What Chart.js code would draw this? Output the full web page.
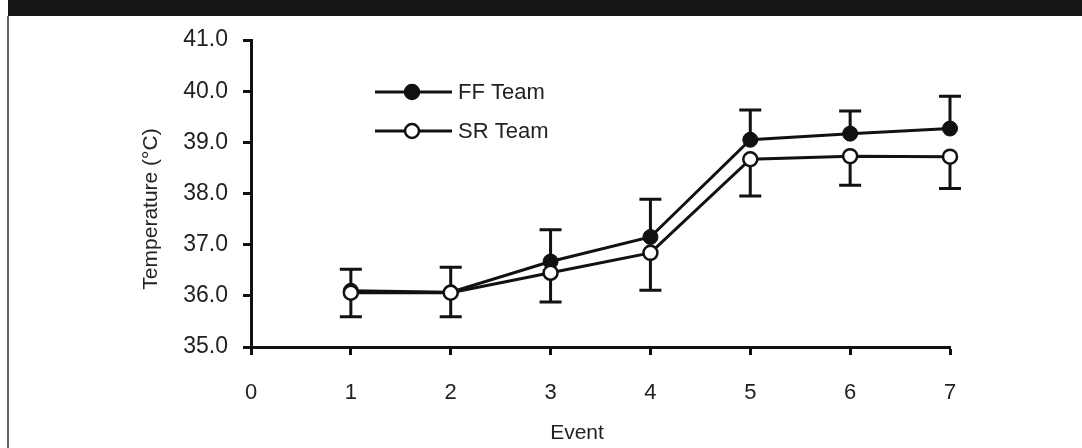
<!DOCTYPE html>
<html>
<head>
<meta charset="utf-8">
<script src="https://cdn.jsdelivr.net/npm/chart.js@4.4.1/dist/chart.umd.min.js"></script>
<style>
  html, body { margin: 0; padding: 0; background: #fff; }
  #wrap { position: relative; width: 1082px; height: 448px; overflow: hidden; }
  #header { position: absolute; left: 8px; top: 0; width: 1074px; height: 16px; background: #161616; }
  #border { position: absolute; left: 7px; top: 16px; width: 2px; height: 432px; background: #666; }
  canvas { position: absolute; left: 0; top: 0; }
</style>
</head>
<body>
<div id="wrap">
  <canvas id="c" width="1082" height="448"></canvas>
  <div id="header"></div>
  <div id="border"></div>
</div>
<script>
// ---- data ----
const events = [1, 2, 3, 4, 5, 6, 7];
const ffTeam = [36.10, 36.07, 36.67, 37.15, 39.05, 39.17, 39.27];
const srTeam = [36.06, 36.06, 36.45, 36.84, 38.67, 38.73, 38.72];
const ffUpper = [36.52, 36.56, 37.29, 37.89, 39.63, 39.61, 39.90];
const srLower = [35.59, 35.59, 35.88, 36.11, 37.95, 38.16, 38.10];
const xTicks = [0, 1, 2, 3, 4, 5, 6, 7];
const yTicks = [35, 36, 37, 38, 39, 40, 41];
const seriesNames = ['FF Team', 'SR Team'];
const xTitle = 'Event';
const yTitle = 'Temperature (°C)';

const FONT = '"Liberation Sans", Arial, Helvetica, sans-serif';
const INK = '#111';

const errorBars = {
  id: 'errorBars',
  beforeDatasetsDraw(chart) {
    const { ctx, scales: { x, y } } = chart;
    ctx.save();
    ctx.strokeStyle = INK;
    ctx.lineWidth = 3;
    const cap = 11;
    const draw = (vx, v0, v1) => {
      const px = x.getPixelForValue(vx);
      const p0 = y.getPixelForValue(v0);
      const p1 = y.getPixelForValue(v1);
      ctx.beginPath();
      ctx.moveTo(px, p0); ctx.lineTo(px, p1);
      ctx.moveTo(px - cap, p1); ctx.lineTo(px + cap, p1);
      ctx.stroke();
    };
    events.forEach((e, i) => {
      draw(e, ffTeam[i], ffUpper[i]);
      draw(e, srTeam[i], srLower[i]);
    });
    ctx.restore();
  }
};

const extras = {
  id: 'extras',
  afterDraw(chart) {
    const { ctx } = chart;
    ctx.save();
    // legend
    const items = [
      { name: seriesNames[0], fill: INK, yy: 92 },
      { name: seriesNames[1], fill: '#fff', yy: 131 }
    ];
    items.forEach(it => {
      ctx.strokeStyle = INK;
      ctx.lineWidth = 3;
      ctx.beginPath();
      ctx.moveTo(375, it.yy); ctx.lineTo(452, it.yy);
      ctx.stroke();
      ctx.beginPath();
      ctx.arc(412, it.yy, 7, 0, Math.PI * 2);
      ctx.fillStyle = it.fill;
      ctx.fill();
      ctx.lineWidth = 2.5;
      ctx.stroke();
      ctx.fillStyle = '#222';
      ctx.font = '22px ' + FONT;
      ctx.textAlign = 'left';
      ctx.textBaseline = 'middle';
      ctx.fillText(it.name, 458, it.yy + 1);
    });
    // axis titles
    ctx.fillStyle = '#222';
    ctx.font = '21px ' + FONT;
    ctx.textAlign = 'center';
    ctx.textBaseline = 'middle';
    ctx.fillText(xTitle, 577, 433);
    ctx.translate(151, 209);
    ctx.rotate(-Math.PI / 2);
    ctx.fillText(yTitle, 0, 0);
    ctx.restore();
  }
};

new Chart(document.getElementById('c'), {
  type: 'line',
  data: {
    datasets: [
      {
        label: seriesNames[0],
        data: events.map((e, i) => ({ x: e, y: ffTeam[i] })),
        borderColor: INK, borderWidth: 3,
        pointRadius: 7.5, pointBackgroundColor: INK, pointBorderColor: INK, pointBorderWidth: 1,
        tension: 0, clip: false, order: 1
      },
      {
        label: seriesNames[1],
        data: events.map((e, i) => ({ x: e, y: srTeam[i] })),
        borderColor: INK, borderWidth: 3,
        pointRadius: 7, pointBackgroundColor: '#fff', pointBorderColor: INK, pointBorderWidth: 2.5,
        tension: 0, clip: false, order: 0
      }
    ]
  },
  options: {
    responsive: false,
    animation: false,
    devicePixelRatio: 1,
    layout: { padding: { left: 0, top: 40, right: 132, bottom: 41 } },
    plugins: { legend: { display: false }, tooltip: { enabled: false } },
    scales: {
      x: {
        type: 'linear', min: 0, max: 7,
        afterBuildTicks(s) { s.ticks = xTicks.map(v => ({ value: v })); },
        afterFit(s) { s.height = 60; },
        border: { display: true, color: INK, width: 3 },
        grid: { display: true, drawOnChartArea: false, drawTicks: true, tickLength: 8, tickColor: INK, tickWidth: 3 },
        ticks: { color: '#222', font: { size: 22, family: FONT }, padding: 25, callback: v => String(v) }
      },
      y: {
        type: 'linear', min: 35, max: 41,
        afterBuildTicks(s) { s.ticks = yTicks.map(v => ({ value: v })); },
        afterFit(s) { s.width = 251; },
        border: { display: true, color: INK, width: 3 },
        grid: { display: true, drawOnChartArea: false, drawTicks: true, tickLength: 8, tickColor: INK, tickWidth: 3 },
        ticks: { color: '#222', font: { size: 23, family: FONT }, padding: 15, callback: v => Number(v).toFixed(1) }
      }
    }
  },
  plugins: [errorBars, extras]
});
</script>
</body>
</html>
